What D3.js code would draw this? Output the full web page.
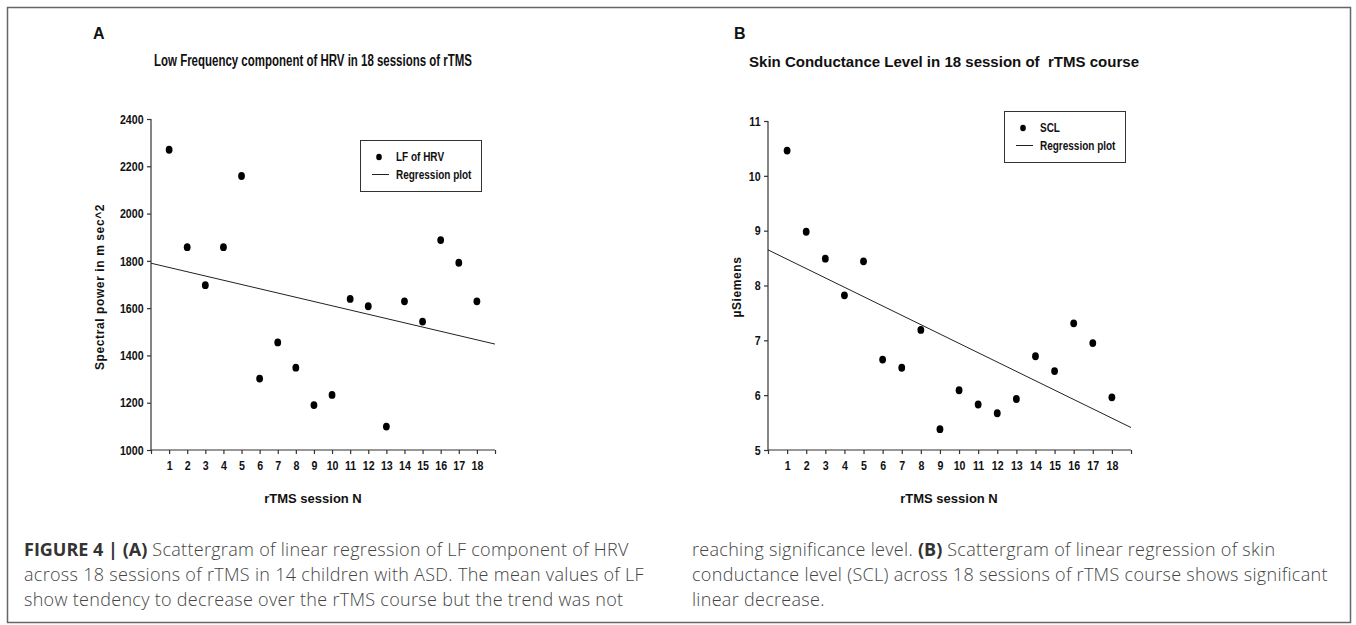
<!DOCTYPE html>
<html>
<head>
<meta charset="utf-8">
<script src="https://cdn.jsdelivr.net/npm/d3@7"></script>
<style>
  body { margin: 0; background: #fff; }
  svg { display: block; }
</style>
</head>
<body>
<svg id="chart" width="1356" height="625"></svg>
<script>
// ---------- data ----------
const sessions = [1, 2, 3, 4, 5, 6, 7, 8, 9, 10, 11, 12, 13, 14, 15, 16, 17, 18];
const lfValues = [2270, 1858, 1697, 1858, 2159, 1302, 1455, 1348, 1190, 1233, 1639, 1608, 1099, 1629, 1543, 1888, 1792, 1629];
const sclValues = [10.46, 8.98, 8.49, 7.82, 8.44, 6.65, 6.50, 7.19, 5.38, 6.09, 5.83, 5.67, 5.93, 6.71, 6.44, 7.31, 6.95, 5.96];
const regressionX = [0, 19];
const lfRegression = [1790, 1448];
const sclRegression = [8.65, 5.41];
const xTicks = [0, 1, 2, 3, 4, 5, 6, 7, 8, 9, 10, 11, 12, 13, 14, 15, 16, 17, 18, 19];
const lfTicks = [1000, 1200, 1400, 1600, 1800, 2000, 2200, 2400];
const sclTicks = [5, 6, 7, 8, 9, 10, 11];

const panels = [
  {
    letter: "A",
    title: "Low Frequency component of HRV in 18 sessions of rTMS",
    titleLen: 318, titleSize: 16,
    yLabel: "Spectral power in m sec^2",
    xLabel: "rTMS session N",
    values: lfValues, reg: lfRegression, yTicks: lfTicks,
    yDomain: [1000, 2400],
    legendLabel: "LF of HRV",
    x0: 151, x1: 495, yTop: 119, yBot: 450,
    letterX: 93, titleX: 313, titleY: 66, yLabelX: 104, yLabelY: 287, xLabelX: 313,
    legend: { x: 360, y: 140, w: 121, h: 51 }
  },
  {
    letter: "B",
    title: "Skin Conductance Level in 18 session of  rTMS course",
    titleLen: 390, titleSize: 15,
    yLabel: "µSiemens",
    xLabel: "rTMS session N",
    values: sclValues, reg: sclRegression, yTicks: sclTicks,
    yDomain: [5, 11],
    legendLabel: "SCL",
    x0: 768, x1: 1131, yTop: 121, yBot: 450,
    letterX: 734, titleX: 944, titleY: 67, yLabelX: 741, yLabelY: 287, xLabelX: 949,
    legend: { x: 1004, y: 111, w: 121, h: 51 }
  }
];

const svg = d3.select("#chart");
const sans = "'Liberation Sans', Arial, sans-serif";

// horizontally condensed bold text (imitates a narrow bold face)
function narrowText(parent, x, y, str, size, sx, anchor) {
  return parent.append("text")
    .attr("transform", `translate(${x},${y}) scale(${sx},1)`)
    .attr("text-anchor", anchor || "start")
    .attr("font-family", sans).attr("font-weight", "bold").attr("font-size", size)
    .attr("fill", "#111").text(str);
}

// outer frame
svg.append("rect").attr("x", 7.5).attr("y", 7.5).attr("width", 1343).attr("height", 615)
  .attr("fill", "none").attr("stroke", "#666").attr("stroke-width", 1.5);

panels.forEach(p => {
  const g = svg.append("g");
  const x = d3.scaleLinear().domain([0, 19]).range([p.x0, p.x1]);
  const y = d3.scaleLinear().domain(p.yDomain).range([p.yBot, p.yTop]);

  g.append("text").attr("x", p.letterX).attr("y", 39)
    .attr("font-family", sans).attr("font-weight", "bold").attr("font-size", 16)
    .attr("fill", "#111").text(p.letter);

  g.append("text").attr("x", p.titleX).attr("y", p.titleY).attr("text-anchor", "middle")
    .attr("font-family", sans).attr("font-weight", "bold").attr("font-size", p.titleSize)
    .attr("textLength", p.titleLen).attr("lengthAdjust", "spacingAndGlyphs")
    .attr("fill", "#111").style("white-space", "pre").text(p.title);

  // y axis
  const yAxis = d3.axisLeft(y).tickValues(p.yTicks).tickSize(4).tickPadding(5).tickFormat(d3.format("d"));
  const ya = g.append("g").attr("transform", `translate(${p.x0},0)`).call(yAxis);
  // x axis
  const xAxis = d3.axisBottom(x).tickValues(xTicks).tickSize(4).tickPadding(7)
    .tickFormat(d => (d >= 1 && d <= 18) ? sessions[d - 1] : "");
  const xa = g.append("g").attr("transform", `translate(0,${p.yBot})`).call(xAxis);

  [ya, xa].forEach(a => {
    a.select(".domain").attr("stroke", "#333").attr("stroke-width", 1.2);
    a.selectAll(".tick line").attr("stroke", "#333").attr("stroke-width", 1.2);
    a.selectAll(".tick text").attr("font-family", sans).attr("font-weight", "bold")
      .attr("font-size", 13).attr("fill", "#111").attr("transform", "scale(0.82,1)");
  });
  ya.select(".domain").attr("d", `M0,${p.yTop}V${p.yBot}`);
  xa.select(".domain").attr("d", `M${p.x0},0H${p.x1}`);

  // labels
  g.append("text").attr("x", p.xLabelX).attr("y", 503).attr("text-anchor", "middle")
    .attr("font-family", sans).attr("font-weight", "bold").attr("font-size", 13)
    .attr("fill", "#111").text(p.xLabel);
  g.append("text").attr("transform", `translate(${p.yLabelX},${p.yLabelY}) rotate(-90)`)
    .attr("text-anchor", "middle")
    .attr("font-family", sans).attr("font-weight", "bold").attr("font-size", 12)
    .attr("letter-spacing", 0.6).attr("fill", "#111").text(p.yLabel);

  // regression line
  g.append("path")
    .datum(regressionX.map((d, i) => [d, p.reg[i]]))
    .attr("d", d3.line().x(d => x(d[0])).y(d => y(d[1])))
    .attr("stroke", "#222").attr("stroke-width", 1).attr("fill", "none");

  // points
  g.selectAll("ellipse.pt").data(sessions).join("ellipse").attr("class", "pt")
    .attr("cx", d => x(d)).attr("cy", (d, i) => y(p.values[i]))
    .attr("rx", 3.4).attr("ry", 3.9).attr("fill", "#000");

  // legend
  const L = p.legend;
  g.append("rect").attr("x", L.x + 0.5).attr("y", L.y + 0.5).attr("width", L.w).attr("height", L.h)
    .attr("fill", "#fff").attr("stroke", "#333").attr("stroke-width", 1);
  g.append("ellipse").attr("cx", L.x + 19).attr("cy", L.y + 17).attr("rx", 2.8).attr("ry", 3.3).attr("fill", "#000");
  narrowText(g, L.x + 36, L.y + 21, p.legendLabel, 12.5, 0.8);
  g.append("line").attr("x1", L.x + 12).attr("x2", L.x + 29).attr("y1", L.y + 34.5).attr("y2", L.y + 34.5)
    .attr("stroke", "#222").attr("stroke-width", 1);
  narrowText(g, L.x + 36, L.y + 39, "Regression plot", 12.5, 0.8);
});

// caption
const capFont = "'Open Sans', Roboto, 'Liberation Sans', sans-serif";
const capLeft = [
  [["FIGURE 4 | (A)", true], [" Scattergram of linear regression of LF component of HRV", false]],
  [["across 18 sessions of rTMS in 14 children with ASD. The mean values of LF", false]],
  [["show tendency to decrease over the rTMS course but the trend was not", false]]
];
const capRight = [
  [["reaching significance level. ", false], ["(B)", true], [" Scattergram of linear regression of skin", false]],
  [["conductance level (SCL) across 18 sessions of rTMS course shows significant", false]],
  [["linear decrease.", false]]
];
function caption(lines, x0) {
  lines.forEach((runs, i) => {
    const t = svg.append("text").attr("x", x0).attr("y", 556 + i * 25)
      .attr("font-family", capFont).attr("font-size", 18)
      .style("white-space", "pre");
    runs.forEach(([s, b]) => {
      t.append("tspan").attr("font-weight", b ? "bold" : 300)
        .attr("letter-spacing", b ? 0 : 0.3)
        .attr("fill", b ? "#333" : "#444").text(s);
    });
  });
}
caption(capLeft, 24);
caption(capRight, 692);
</script>
</body>
</html>
